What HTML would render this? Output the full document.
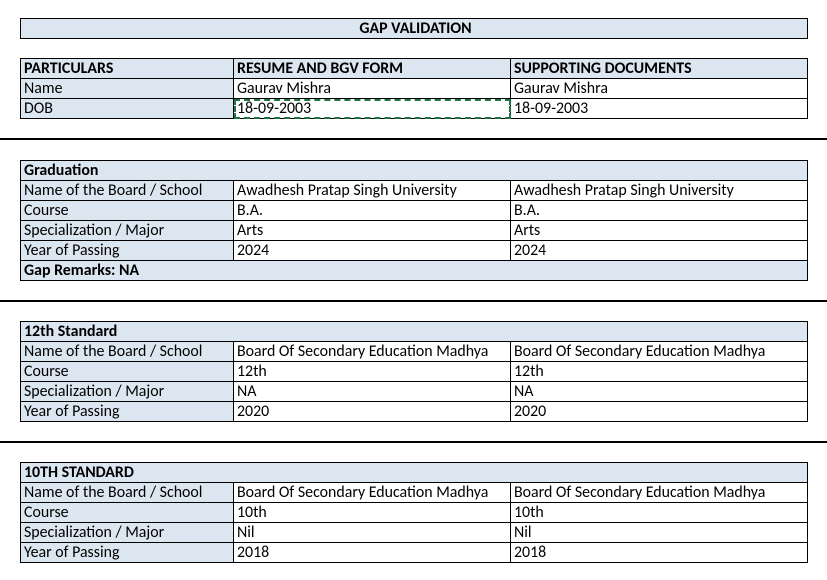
<!DOCTYPE html>
<html><head><style>
body{margin:0;width:827px;height:580px;background:#fff;position:relative;font-family:"Carlito","Liberation Sans",sans-serif;font-size:15.9px;color:#000;overflow:hidden}
table{position:absolute;left:20px;border-collapse:collapse;width:788px;table-layout:fixed}
td{border:1px solid #000;height:18px;padding:1px 0 0 3px;line-height:18px;white-space:nowrap;overflow:hidden}
.b{background:#dce6f1}
.h td{font-weight:bold}
.hr{position:absolute;left:0;width:827px;height:2px;background:#000}
col.a{width:213px}col.c{width:277px}
</style></head><body>
<table style="top:18px"><tr><td class="b" style="text-align:center;font-weight:bold">GAP VALIDATION</td></tr></table>
<table style="top:58px"><colgroup><col class="a"><col class="c"><col></colgroup>
<tr class="h"><td class="b">PARTICULARS</td><td class="b">RESUME AND BGV FORM</td><td class="b">SUPPORTING DOCUMENTS</td></tr>
<tr><td class="b">Name</td><td>Gaurav Mishra</td><td>Gaurav Mishra</td></tr>
<tr><td class="b">DOB</td><td style="outline:2px dashed #217346;outline-offset:-2px">18-09-2003</td><td>18-09-2003</td></tr>
</table>
<div class="hr" style="top:138px"></div>
<table style="top:160px"><colgroup><col class="a"><col class="c"><col></colgroup>
<tr class="h"><td class="b" colspan="3">Graduation</td></tr>
<tr><td class="b">Name of the Board / School</td><td>Awadhesh Pratap Singh University</td><td>Awadhesh Pratap Singh University</td></tr>
<tr><td class="b">Course</td><td>B.A.</td><td>B.A.</td></tr>
<tr><td class="b">Specialization / Major</td><td>Arts</td><td>Arts</td></tr>
<tr><td class="b">Year of Passing</td><td>2024</td><td>2024</td></tr>
<tr class="h"><td class="b" colspan="3">Gap Remarks: NA</td></tr>
</table>
<div class="hr" style="top:300px"></div>
<table style="top:321px"><colgroup><col class="a"><col class="c"><col></colgroup>
<tr class="h"><td class="b" colspan="3">12th Standard</td></tr>
<tr><td class="b">Name of the Board / School</td><td>Board Of Secondary Education Madhya</td><td>Board Of Secondary Education Madhya</td></tr>
<tr><td class="b">Course</td><td>12th</td><td>12th</td></tr>
<tr><td class="b">Specialization / Major</td><td>NA</td><td>NA</td></tr>
<tr><td class="b">Year of Passing</td><td>2020</td><td>2020</td></tr>
</table>
<div class="hr" style="top:441px"></div>
<table style="top:462px"><colgroup><col class="a"><col class="c"><col></colgroup>
<tr class="h"><td class="b" colspan="3">10TH STANDARD</td></tr>
<tr><td class="b">Name of the Board / School</td><td>Board Of Secondary Education Madhya</td><td>Board Of Secondary Education Madhya</td></tr>
<tr><td class="b">Course</td><td>10th</td><td>10th</td></tr>
<tr><td class="b">Specialization / Major</td><td>Nil</td><td>Nil</td></tr>
<tr><td class="b">Year of Passing</td><td>2018</td><td>2018</td></tr>
</table>
</body></html>
